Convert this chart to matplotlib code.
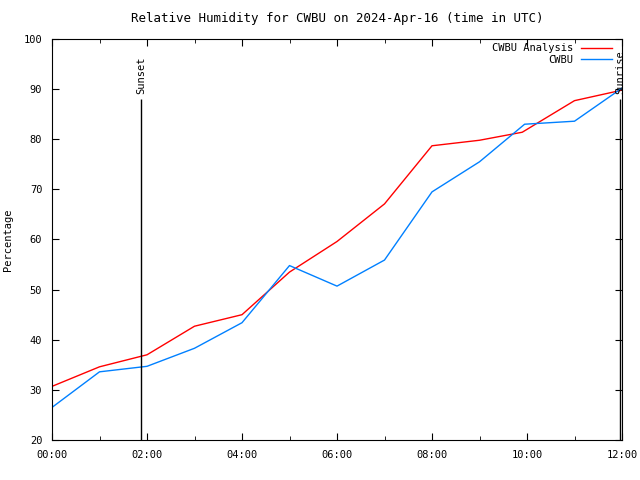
import matplotlib
matplotlib.use("Agg")
import matplotlib.pyplot as plt
from matplotlib.ticker import MultipleLocator

# hours after 00:00 UTC
hours = [0, 1, 2, 3, 4, 5, 6, 7, 8, 9, 9.9, 11, 12]
analysis = [30.7, 34.6, 37.0, 42.7, 45.0, 53.5, 59.6, 67.1, 78.7, 79.8, 81.4, 87.7, 89.8]

obs_hours = [0, 1, 2, 3, 4, 5, 6, 7, 8, 9, 9.95, 11, 12]
observed = [26.5, 33.6, 34.7, 38.3, 43.4, 54.8, 50.7, 55.9, 69.5, 75.5, 83.0, 83.6, 90.2]

tick_hours = [0, 2, 4, 6, 8, 10, 12]
tick_labels = ["00:00", "02:00", "04:00", "06:00", "08:00", "10:00", "12:00"]

sunset = 1.87
sunrise = 11.96
marker_top = 88

plt.rcParams["font.family"] = "DejaVu Sans Mono"
plt.rcParams["font.size"] = 7.5

fig = plt.figure(figsize=(6.4, 4.8), dpi=100)
ax = fig.add_axes([52 / 640, 40 / 480, 570 / 640, 401 / 480])

ax.plot(hours, analysis, color="#ff0000", lw=1, label="CWBU Analysis")
ax.plot(obs_hours, observed, color="#0080ff", lw=1, label="CWBU")

for h, name in [(sunset, "Sunset"), (sunrise, "Sunrise")]:
    ax.vlines(h, 20, marker_top, color="black", lw=1)
    ax.text(h, marker_top + 1.0, name, rotation=90, ha="center", va="bottom")

ax.set_xlim(0, 12)
ax.set_ylim(20, 100)
ax.set_xticks(tick_hours)
ax.set_xticklabels(tick_labels)
ax.xaxis.set_minor_locator(MultipleLocator(1))
ax.yaxis.set_major_locator(MultipleLocator(10))
ax.tick_params(which="both", direction="in", top=True, right=True, pad=7)
ax.tick_params(which="major", length=5)
ax.tick_params(which="minor", length=3)

ax.set_title("Relative Humidity for CWBU on 2024-Apr-16 (time in UTC)", pad=12)
ax.set_ylabel("Percentage")
ax.yaxis.set_label_coords(-39 / 570, 0.5)

leg = ax.legend(loc="upper right", frameon=False, markerfirst=False,
                handlelength=3.0, borderaxespad=0.0, labelspacing=0.15,
                handletextpad=0.7, bbox_to_anchor=(0.99, 1.0))
for t in leg.get_texts():
    t.set_ha("right")

fig.savefig("out.png", dpi=100)
